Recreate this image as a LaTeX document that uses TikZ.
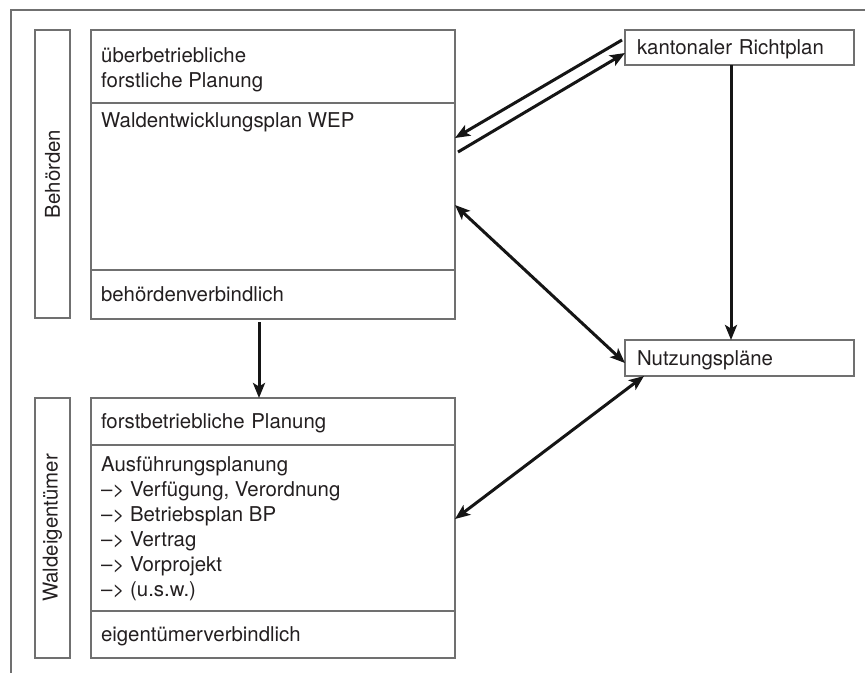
\documentclass[tikz,border=0pt]{standalone}
\usepackage{fontspec}
\setmainfont{TeX Gyre Heros}
\usetikzlibrary{positioning, arrows.meta}

\definecolor{rahmen}{HTML}{707070}
\definecolor{pfeilfarbe}{HTML}{151515}
\definecolor{schrift}{HTML}{231F20}

\begin{document}
\begin{tikzpicture}[x=1pt, y=-1pt, node distance=0pt,
    every node/.style={font=\fontsize{20.4}{25}\selectfont, text=schrift},
    feld/.style={draw=rahmen, line width=1.2pt, rectangle, outer sep=0pt, text width=344pt, inner xsep=10pt, inner ysep=0pt, align=left, text depth=0pt},
    seite/.style={draw=rahmen, line width=1.2pt, rectangle, outer sep=0pt, minimum width=35pt},
    kasten/.style={draw=rahmen, line width=1.2pt, rectangle, outer sep=0pt, minimum height=35pt, text width=205pt, inner xsep=12pt, inner ysep=0pt, align=left, text depth=0pt},
    txt/.style={inner sep=0pt, align=left},
    pfeil/.style={draw=pfeilfarbe, line width=3pt},
    >={Stealth[length=15pt, width=12pt, inset=3.5pt]}]

    \useasboundingbox (0,0) rectangle (865,673);
    \draw[rahmen, line width=1.3pt] (865,10) -- (11,10) -- (11,673);

    % Behoerden
    \node[seite, minimum height=288pt, anchor=north west] (behoerden) at (35,30) {};
    \node[txt, rotate=90] (behoerdentxt) at (behoerden.center) {Behörden};
    \node[feld, minimum height=73pt, anchor=north west] (ueber) at (91,30) {};
    \node[feld, minimum height=167pt, below=of ueber] (wep) {};
    \node[feld, minimum height=49pt, below=of wep] (behverb) {behördenverbindlich};
    \node[txt, anchor=north west] (uebertxt) at ([shift={(10pt,-17.5pt)}]ueber.north west) {überbetriebliche\\forstliche Planung};
    \node[txt, anchor=base west] (weptxt) at ([shift={(10pt,-24pt)}]wep.north west) {Waldentwicklungsplan WEP};

    % Waldeigentuemer
    \node[seite, minimum height=260pt, anchor=north west] (waldeig) at (35,398) {};
    \node[txt, rotate=90] (waldeigtxt) at (waldeig.center) {Waldeigentümer};
    \node[feld, minimum height=47pt, anchor=north west] (forstb) at (91,398) {forstbetriebliche Planung};
    \node[feld, minimum height=166pt, below=of forstb] (ausf) {};
    \node[feld, minimum height=47pt, below=of ausf] (eigen) {eigentümerverbindlich};
    \node[txt, anchor=north west] (ausftxt) at ([shift={(10pt,-11.5pt)}]ausf.north west)
        {Ausführungsplanung\\–> Verfügung, Verordnung\\–> Betriebsplan BP\\–> Vertrag\\–> Vorprojekt\\–> (u.s.w.)};

    % rechts
    \node[kasten, anchor=north west] (richt) at (625,30) {kantonaler Richtplan};
    \node[kasten, minimum height=36pt, anchor=north west] (nutz) at (625,340) {Nutzungspläne};

    \path
    ([shift={(-3pt,7.5pt)}]richt.west) edge[pfeil, ->] ([yshift=-35pt]wep.north east)
    ([shift={(3pt,-49pt)}]wep.north east) edge[pfeil, ->] ([yshift=-5.5pt]richt.west)
    ([yshift=-102pt]wep.north east) edge[pfeil, <->] ([yshift=-5pt]nutz.west)
    ([yshift=9pt]ausf.east) edge[pfeil, <->] ([xshift=19pt]nutz.south west)
    ([xshift=-8.5pt]richt.south) edge[pfeil, ->] ([xshift=-8.5pt]nutz.north)
    ([shift={(-14pt,-3pt)}]behverb.south) edge[pfeil, ->] ([xshift=-14pt]forstb.north);
\end{tikzpicture}
\end{document}
